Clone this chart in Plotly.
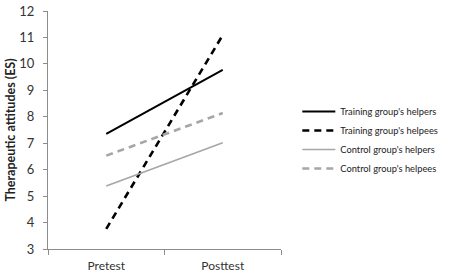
import plotly.graph_objects as go

categories = ["Pretest", "Posttest"]
training_helpers = [7.35, 9.77]
training_helpees = [3.76, 11.09]
control_helpers = [5.38, 7.02]
control_helpees = [6.53, 8.14]
series_names = ["Training group's helpers", "Training group's helpees",
                "Control group's helpers", "Control group's helpees"]

fig = go.Figure()
styles = [
    dict(color="black", width=2, dash="solid"),
    dict(color="black", width=2.6, dash="7px,5px"),
    dict(color="#a6a6a6", width=1.6, dash="solid"),
    dict(color="#a6a6a6", width=2.6, dash="7px,5px"),
]
for name, vals, st in zip(series_names,
                          [training_helpers, training_helpees, control_helpers, control_helpees],
                          styles):
    fig.add_trace(go.Scatter(x=categories, y=vals, mode="lines", name=name,
                             line=st, legendgroup=name))

fig.update_layout(
    width=454, height=275,
    margin=dict(l=48, r=170, t=11, b=26),
    paper_bgcolor="white", plot_bgcolor="white",
    font=dict(family="Lato, Open Sans, sans-serif", color="#333333"),
    legend=dict(x=1.07, y=0.458, xanchor="left", yanchor="middle",
                font=dict(size=9.3, color="#222222"), tracegroupgap=0,
                itemwidth=33),
    xaxis=dict(type="category", range=[-0.5, 1.5], showline=True, linecolor="#8c8c8c",
               linewidth=1, ticks="outside", tickson="boundaries", ticklen=5,
               tickcolor="#8c8c8c", tickfont=dict(size=12, color="#333333"),
               ticklabelstandoff=6,
               showgrid=False, zeroline=False, automargin=False),
    yaxis=dict(range=[3, 12], dtick=1, showline=True, linecolor="#8c8c8c", linewidth=1,
               ticks="outside", ticklen=4, tickcolor="#8c8c8c",
               tickfont=dict(size=13, color="#333333"), showgrid=False, zeroline=False,
               ticklabelstandoff=6, automargin=False,
               title=dict(text="<b>Therapeutic attitudes (ES)</b>",
                          font=dict(size=12.5, color="#222222"), standoff=0)),
)

fig.write_html("out.html", config={"displayModeBar": False},
               post_script="document.body.style.margin='0';")
